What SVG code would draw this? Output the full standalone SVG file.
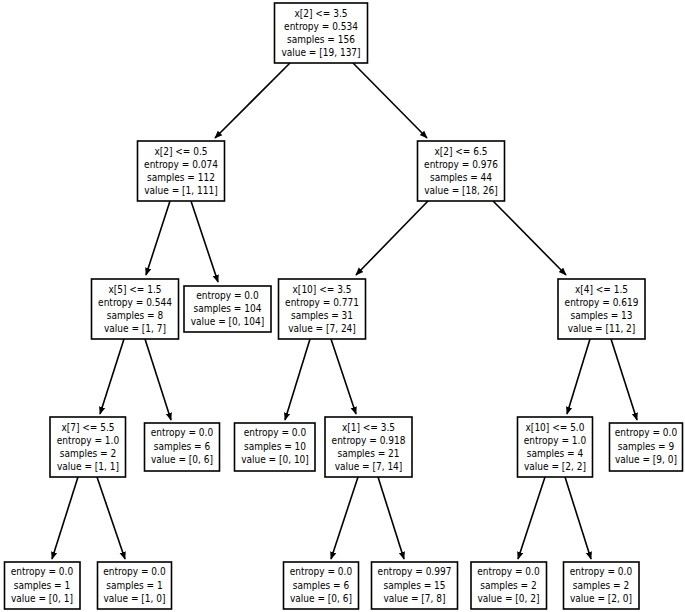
<svg xmlns="http://www.w3.org/2000/svg" width="685" height="612" viewBox="0 0 685 612">
<style>
rect{fill:#fff;stroke:#000;stroke-width:1.6}
text{font-family:"DejaVu Sans Condensed","Liberation Sans",sans-serif;font-size:10px;text-anchor:middle;fill:#000}
.e line{stroke:#000;stroke-width:1.6;marker-end:url(#a)}
</style>
<defs><marker id="a" viewBox="0 0 10 10" refX="9" refY="5" markerWidth="5" markerHeight="5" orient="auto"><path d="M0,1 L10,5 L0,9 z" fill="#000"/></marker></defs>
<g class="e">
<line x1="290" y1="63" x2="215" y2="138"/>
<line x1="353" y1="63" x2="427" y2="138"/>
<line x1="170" y1="201" x2="146" y2="275"/>
<line x1="191" y1="201" x2="218" y2="282"/>
<line x1="428" y1="201" x2="356" y2="275"/>
<line x1="493" y1="201" x2="566" y2="275"/>
<line x1="124" y1="339" x2="100" y2="414"/>
<line x1="145" y1="339" x2="171" y2="420"/>
<line x1="310" y1="339" x2="285" y2="420"/>
<line x1="331" y1="339" x2="356" y2="414"/>
<line x1="590" y1="339" x2="567" y2="414"/>
<line x1="611" y1="339" x2="637" y2="420"/>
<line x1="78" y1="477" x2="52" y2="559"/>
<line x1="97" y1="477" x2="125" y2="559"/>
<line x1="358" y1="477" x2="331" y2="559"/>
<line x1="378" y1="477" x2="404" y2="559"/>
<line x1="545" y1="477" x2="518" y2="559"/>
<line x1="565" y1="477" x2="591" y2="559"/>
</g>
<g id="n0"><rect x="274.5" y="3" width="93" height="60"/><text x="321" y="17">x[2] &lt;= 3.5</text><text x="321" y="30">entropy = 0.534</text><text x="321" y="43">samples = 156</text><text x="321" y="56">value = [19, 137]</text></g>
<g id="n1"><rect x="137.5" y="141" width="87" height="60"/><text x="181" y="155">x[2] &lt;= 0.5</text><text x="181" y="168">entropy = 0.074</text><text x="181" y="181">samples = 112</text><text x="181" y="194">value = [1, 111]</text></g>
<g id="n2"><rect x="417.5" y="141" width="87" height="60"/><text x="461" y="155">x[2] &lt;= 6.5</text><text x="461" y="168">entropy = 0.976</text><text x="461" y="181">samples = 44</text><text x="461" y="194">value = [18, 26]</text></g>
<g id="n3"><rect x="91.5" y="279" width="87" height="60"/><text x="135" y="293">x[5] &lt;= 1.5</text><text x="135" y="306">entropy = 0.544</text><text x="135" y="319">samples = 8</text><text x="135" y="332">value = [1, 7]</text></g>
<g id="n4"><rect x="184" y="286" width="87" height="46"/><text x="227.5" y="299">entropy = 0.0</text><text x="227.5" y="312">samples = 104</text><text x="227.5" y="325">value = [0, 104]</text></g>
<g id="n5"><rect x="278.5" y="279" width="87" height="60"/><text x="322" y="293">x[10] &lt;= 3.5</text><text x="322" y="306">entropy = 0.771</text><text x="322" y="319">samples = 31</text><text x="322" y="332">value = [7, 24]</text></g>
<g id="n6"><rect x="558" y="279" width="87" height="60"/><text x="601.5" y="293">x[4] &lt;= 1.5</text><text x="601.5" y="306">entropy = 0.619</text><text x="601.5" y="319">samples = 13</text><text x="601.5" y="332">value = [11, 2]</text></g>
<g id="n7"><rect x="50" y="417" width="75.5" height="60"/><text x="88" y="431">x[7] &lt;= 5.5</text><text x="88" y="444">entropy = 1.0</text><text x="88" y="457">samples = 2</text><text x="88" y="470">value = [1, 1]</text></g>
<g id="n8"><rect x="144.5" y="423" width="75" height="48"/><text x="182" y="436">entropy = 0.0</text><text x="182" y="450">samples = 6</text><text x="182" y="463">value = [0, 6]</text></g>
<g id="n9"><rect x="234.5" y="423" width="80.5" height="48"/><text x="275" y="436">entropy = 0.0</text><text x="275" y="450">samples = 10</text><text x="275" y="463">value = [0, 10]</text></g>
<g id="n10"><rect x="325" y="417" width="87" height="60"/><text x="368.5" y="431">x[1] &lt;= 3.5</text><text x="368.5" y="444">entropy = 0.918</text><text x="368.5" y="457">samples = 21</text><text x="368.5" y="470">value = [7, 14]</text></g>
<g id="n11"><rect x="517.5" y="417" width="75" height="60"/><text x="555" y="431">x[10] &lt;= 5.0</text><text x="555" y="444">entropy = 1.0</text><text x="555" y="457">samples = 4</text><text x="555" y="470">value = [2, 2]</text></g>
<g id="n12"><rect x="609.5" y="423" width="73" height="48"/><text x="646" y="436">entropy = 0.0</text><text x="646" y="450">samples = 9</text><text x="646" y="463">value = [9, 0]</text></g>
<g id="n13"><rect x="4.5" y="562" width="75.5" height="47"/><text x="42" y="575">entropy = 0.0</text><text x="42" y="589">samples = 1</text><text x="42" y="602">value = [0, 1]</text></g>
<g id="n14"><rect x="97.5" y="562" width="74" height="47"/><text x="134.5" y="575">entropy = 0.0</text><text x="134.5" y="589">samples = 1</text><text x="134.5" y="602">value = [1, 0]</text></g>
<g id="n15"><rect x="283.5" y="562" width="75" height="47"/><text x="321" y="575">entropy = 0.0</text><text x="321" y="589">samples = 6</text><text x="321" y="602">value = [0, 6]</text></g>
<g id="n16"><rect x="371.5" y="562" width="86" height="47"/><text x="414.5" y="575">entropy = 0.997</text><text x="414.5" y="589">samples = 15</text><text x="414.5" y="602">value = [7, 8]</text></g>
<g id="n17"><rect x="471" y="562" width="75.5" height="47"/><text x="508.5" y="575">entropy = 0.0</text><text x="508.5" y="589">samples = 2</text><text x="508.5" y="602">value = [0, 2]</text></g>
<g id="n18"><rect x="563.5" y="562" width="75.5" height="47"/><text x="601" y="575">entropy = 0.0</text><text x="601" y="589">samples = 2</text><text x="601" y="602">value = [2, 0]</text></g>
</svg>
